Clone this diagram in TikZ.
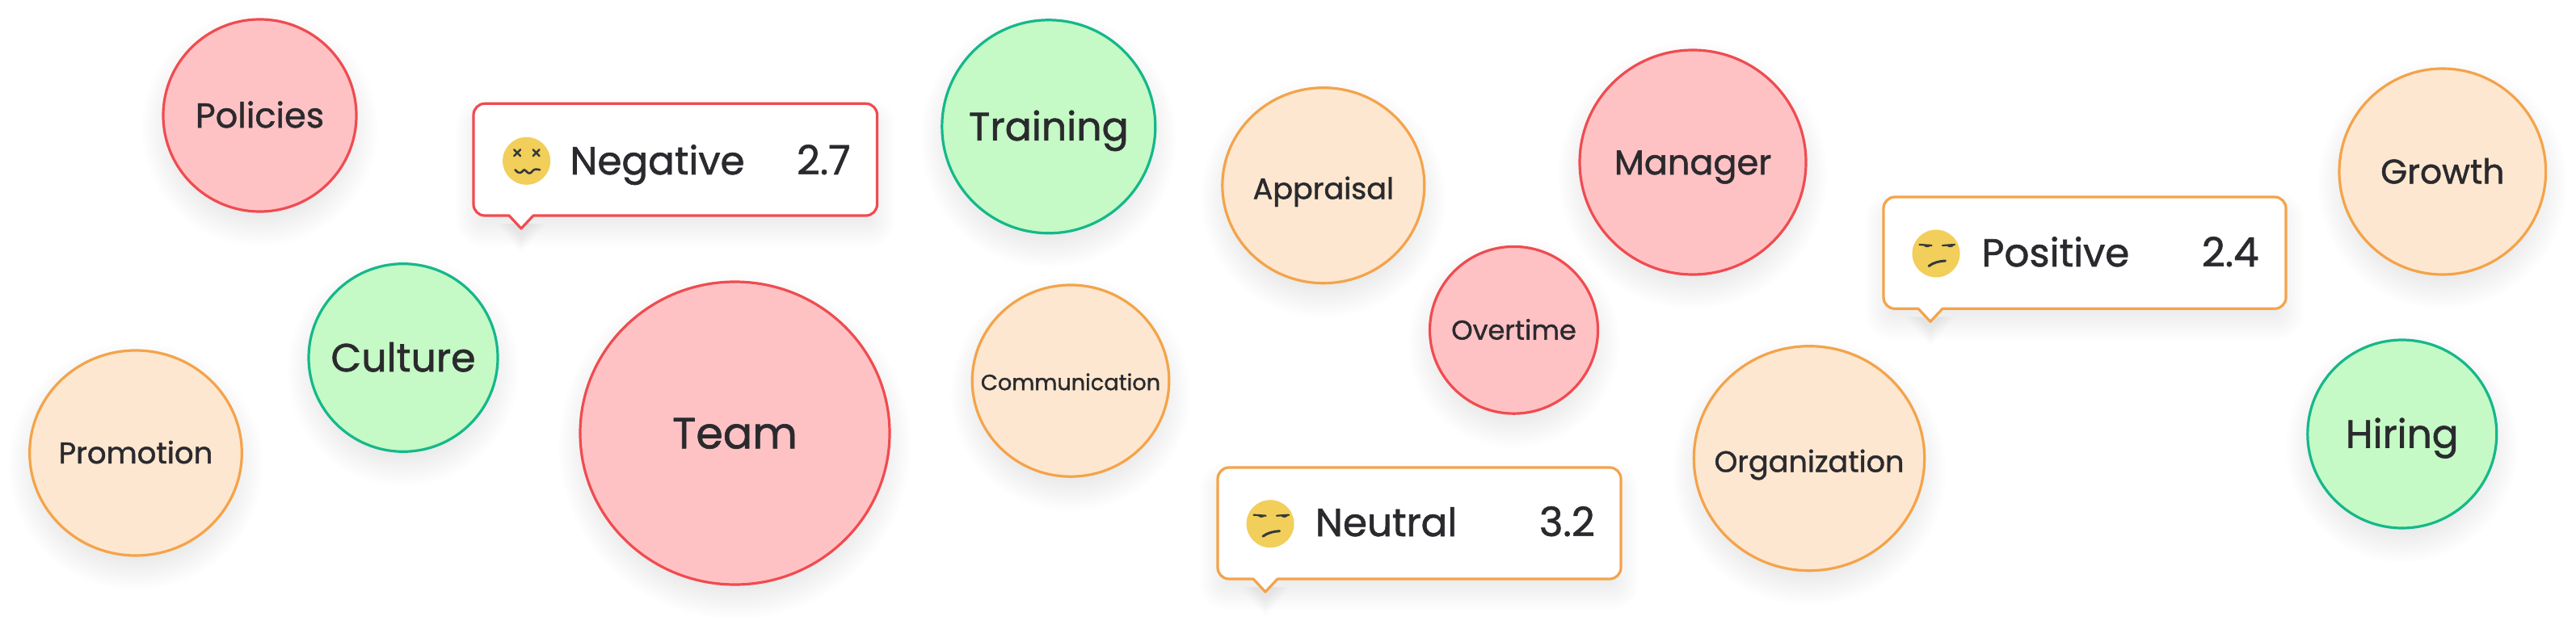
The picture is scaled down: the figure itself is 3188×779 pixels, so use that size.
\documentclass[tikz,border=0pt]{standalone}
\usepackage{fontspec}
\usetikzlibrary{shapes.geometric}
\setmainfont{Poppins}[FakeBold=1.2]
\definecolor{inkc}{HTML}{2A2A2E}
\definecolor{redl}{HTML}{F04B50}
\definecolor{redf}{HTML}{FFC2C4}
\definecolor{grnl}{HTML}{14B88A}
\definecolor{grnf}{HTML}{C5F9C5}
\definecolor{orgl}{HTML}{F4A34A}
\definecolor{orgf}{HTML}{FDE7D0}
\definecolor{facec}{HTML}{F2CE5A}
\definecolor{featc}{HTML}{333A3A}
\tikzset{
  x=0.5pt,y=-0.5pt,
  bubble/.style={ellipse,inner sep=0pt,line width=1.6pt,text=inkc,text depth=0pt,align=center},
  redb/.style={bubble,draw=redl,fill=redf},
  grnb/.style={bubble,draw=grnl,fill=grnf},
  orgb/.style={bubble,draw=orgl,fill=orgf},
  calltext/.style={inner sep=0pt,text=inkc,font=\fontsize{24.2}{28}\selectfont},
  callval/.style={inner sep=0pt,text=inkc,font=\fontsize{25}{28}\selectfont},
  boxline/.style={line width=1.6pt,fill=white,line join=round},
  feat/.style={draw=featc,line width=1.2pt,line cap=round},
  face/.style={circle,fill=facec,inner sep=0pt,minimum size=29.5pt}
}
% name, x, y, rx, ry, style, fontsize(pt), text
\newcommand{\bub}[8]{%
  \foreach \d in {-14,-10,...,26}{\fill[black,opacity=.0085] (#2,#3+16) ellipse[x radius=#4+\d,y radius=#5+\d];}
  \pgfmathsetmacro{\th}{0.7*#7}
  \node[#6,minimum width=#4pt,minimum height=#5pt,text height=\th pt,font=\fontsize{#7}{#7}\selectfont] (#1) at (#2,#3) {\makebox[0pt][c]{#8}};
}
% name,l,t,r,b,tipx,color
\newcommand{\callbox}[7]{%
  \foreach \d in {-14,-10,...,22}{
    \pgfmathsetmacro{\rr}{max(12+\d,1)}
    \fill[black,opacity=.0085,rounded corners=\rr*0.5pt] (#2-\d,#3-\d+16) rectangle (#4+\d,#5+\d+16);
  }
  \foreach \d in {-2,2,...,14}{
    \fill[black,opacity=.012] (#6-16-\d,#5+10) -- (#6,#5+16+16+\d) -- (#6+16+\d,#5+10) -- cycle;
  }
  \coordinate (#1tip) at (#6,#5+16);
  \draw[boxline,draw=#7] (#2+60,#3) [rounded corners=7pt] -- (#4,#3) -- (#4,#5) [sharp corners] -- (#6+15,#5) -- (#1tip) -- (#6-15,#5) [rounded corners=7pt] -- (#2,#5) -- (#2,#3) [sharp corners] -- cycle;
}
\newcommand{\sadface}[3]{%
  \node[face] (#1) at (#2,#3) {};
  \begin{scope}[shift={(#2,#3)}]
    \draw[feat,line width=1.1pt] (-20.5,-11) -- (-5.5,-10);
    \draw[feat,line width=1.1pt] (23,-11) -- (8,-10);
    \fill[featc] (-15.5,-10.5) to[bend right=80] (-7,-10) -- cycle;
    \fill[featc] (22,-10.5) to[bend left=80] (13.4,-10) -- cycle;
    \draw[feat,line width=1.5pt] (-9,15.5) .. controls (-3,11) and (4,9.5) .. (11.5,9);
  \end{scope}
}
\begin{document}
\begin{tikzpicture}
\useasboundingbox[fill=white] (0,0) rectangle (3188,779);
\bub{policies}{321.5}{143}{119.5}{119}{redb}{21.5}{Policies}
\bub{team}{909.5}{536.5}{191.5}{187.5}{redb}{27}{Team}
\bub{training}{1297.8}{156.8}{132}{132}{grnb}{24.5}{Training}
\bub{culture}{499}{443}{117}{116.3}{grnb}{24.5}{Culture}
\bub{promotion}{168}{561}{131.3}{127}{orgb}{18.5}{Promotion}
\bub{communication}{1325}{471.6}{121.8}{118.6}{orgb}{13.6}{\raisebox{-1pt}{Communication}}
\bub{appraisal}{1637.8}{229.7}{125}{121}{orgb}{18.3}{\raisebox{-2pt}{Appraisal}}
\bub{manager}{2095}{201}{140}{139}{redb}{21.5}{Manager}
\bub{overtime}{1873.5}{408.8}{104}{103.4}{redb}{16.8}{Overtime}
\bub{organization}{2239}{567.7}{142.7}{139}{orgb}{18.3}{\raisebox{-2pt}{Organization}}
\bub{growth}{3022.8}{212.5}{127.8}{127.5}{orgb}{21.2}{Growth}
\bub{hiring}{2972.8}{537.5}{117}{116.5}{grnb}{24.3}{Hiring}

\callbox{neg}{586}{128.3}{1085.5}{267}{645}{redl}
\node[face] (negface) at (651.6,199.3) {};
\begin{scope}[shift={(651.6,199.3)}]
  \draw[feat] (-15.5,-14) -- (-7.5,-6) (-15.5,-6) -- (-7.5,-14) (8,-14) -- (16,-6) (8,-6) -- (16,-14);
  \draw[feat,line width=1.3pt] (-14,11) .. controls (-11,15) and (-8,16) .. (-5,13) .. controls (-3,10) and (-2,11) .. (0,13) .. controls (2,16) and (5,16) .. (7,13) .. controls (9,10) and (12,10) .. (16.5,11);
\end{scope}
\node[calltext,anchor=base west] (negl) at (705,216) {Negative};
\node[callval,anchor=base east] (negv) at (1053,216) {2.7};

\callbox{neu}{1507}{579}{2006}{717}{1566}{orgl}
\sadface{neuface}{1572}{648.7}
\node[calltext,anchor=base west] (neul) at (1627.5,664) {Neutral};
\node[callval,anchor=base east] (neuv) at (1974,664) {3.2};

\callbox{pos}{2331}{244}{2829}{382.3}{2389}{orgl}
\sadface{posface}{2396}{314}
\node[calltext,anchor=base west] (posl) at (2452,330) {Positive};
\node[callval,anchor=base east] (posv) at (2796,330) {2.4};
\end{tikzpicture}
\end{document}
